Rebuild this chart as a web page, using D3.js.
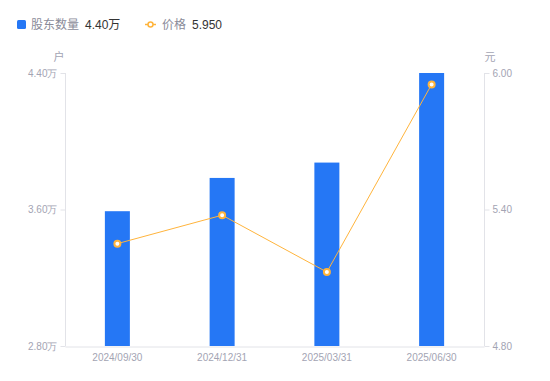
<!DOCTYPE html>
<html>
<head>
<meta charset="utf-8">
<script src="https://cdn.jsdelivr.net/npm/d3@7"></script>
<style>
    body { margin: 0; background: #fff; }
    svg { font-family: "Liberation Sans", Arial, "Noto Sans CJK SC", sans-serif; }
</style>
</head>
<body>
<div id="chart"></div>
<script>
const categories = ["2024/09/30", "2024/12/31", "2025/03/31", "2025/06/30"];
const holders = [3.59, 3.785, 3.875, 4.40];   // 万户
const prices = [5.25, 5.375, 5.125, 5.95];     // 元
const holderTicks = [2.80, 3.60, 4.40];
const priceTicks = [4.80, 5.40, 6.00];

const width = 550, height = 381;
const margin = { top: 73, right: 66, bottom: 35, left: 65 };
const innerW = width - margin.left - margin.right;
const innerH = height - margin.top - margin.bottom;

const barColor = "#2577f5";
const lineColor = "#ffb43c";
const axisColor = "#e2e3e8";
const labelColor = "#a3a4b3";

const svg = d3.select("#chart").append("svg")
    .attr("width", width)
    .attr("height", height);

const x = d3.scaleBand().domain(categories).range([margin.left, margin.left + innerW]);
const yL = d3.scaleLinear().domain([2.80, 4.40]).range([margin.top + innerH, margin.top]);
const yR = d3.scaleLinear().domain([4.80, 6.00]).range([margin.top + innerH, margin.top]);

// axes
const leftAxis = svg.append("g")
    .attr("transform", `translate(${margin.left + 0.5},0)`)
    .call(d3.axisLeft(yL).tickValues(holderTicks).tickSize(5).tickPadding(3)
        .tickFormat(d => d3.format(".2f")(d) + "万"));
const rightAxis = svg.append("g")
    .attr("transform", `translate(${margin.left + innerW + 0.5},0)`)
    .call(d3.axisRight(yR).tickValues(priceTicks).tickSize(5).tickPadding(3)
        .tickFormat(d3.format(".2f")));
const bottomAxis = svg.append("g")
    .attr("transform", `translate(0,${margin.top + innerH + 0.5})`)
    .call(d3.axisBottom(x).tickSize(0).tickPadding(7));

[leftAxis, rightAxis, bottomAxis].forEach(a => {
    a.select(".domain").attr("stroke", axisColor);
    a.selectAll(".tick line").attr("stroke", axisColor);
    a.selectAll("text").attr("fill", labelColor).style("font-size", "10px");
});
leftAxis.select(".domain").attr("d", `M0,${margin.top}V${margin.top + innerH}`);
rightAxis.select(".domain").attr("d", `M0,${margin.top}V${margin.top + innerH}`);

// unit labels
svg.append("text").attr("x", 59).attr("y", 61).attr("text-anchor", "middle")
    .attr("fill", labelColor).style("font-size", "11px").text("户");
svg.append("text").attr("x", 490).attr("y", 61).attr("text-anchor", "middle")
    .attr("fill", labelColor).style("font-size", "11px").text("元");

// bars
const barW = 25;
svg.selectAll(".bar")
    .data(holders)
    .enter().append("rect")
    .attr("class", "bar")
    .attr("x", (d, i) => x(categories[i]) + x.bandwidth() / 2 - barW / 2)
    .attr("y", d => yL(d))
    .attr("width", barW)
    .attr("height", d => yL(2.80) - yL(d))
    .attr("fill", barColor);

// price line
const line = d3.line()
    .x((d, i) => x(categories[i]) + x.bandwidth() / 2)
    .y(d => yR(d));

svg.append("path")
    .datum(prices)
    .attr("d", line)
    .attr("fill", "none")
    .attr("stroke", lineColor)
    .attr("stroke-width", 1);

svg.selectAll(".point")
    .data(prices)
    .enter().append("circle")
    .attr("class", "point")
    .attr("cx", (d, i) => x(categories[i]) + x.bandwidth() / 2)
    .attr("cy", d => yR(d))
    .attr("r", 3)
    .attr("fill", "#fff")
    .attr("stroke", lineColor)
    .attr("stroke-width", 2);

// legend
const legend = svg.append("g").style("font-size", "12px");
legend.append("rect").attr("x", 17).attr("y", 20).attr("width", 9).attr("height", 9)
    .attr("rx", 1.5).attr("fill", barColor);
legend.append("text").attr("x", 31).attr("y", 29).attr("fill", "#8a8b99").text("股东数量");
legend.append("text").attr("x", 85).attr("y", 29).attr("fill", "#333").text(d3.format(".2f")(holders[3]) + "万");

legend.append("line").attr("x1", 145).attr("x2", 156).attr("y1", 24.5).attr("y2", 24.5)
    .attr("stroke", lineColor).attr("stroke-width", 1.5);
legend.append("circle").attr("cx", 150.5).attr("cy", 24.5).attr("r", 2.5)
    .attr("fill", "#fff").attr("stroke", lineColor).attr("stroke-width", 1.5);
legend.append("text").attr("x", 162).attr("y", 29).attr("fill", "#8a8b99").text("价格");
legend.append("text").attr("x", 192).attr("y", 29).attr("fill", "#333").text(d3.format(".3f")(prices[3]));
</script>
</body>
</html>
